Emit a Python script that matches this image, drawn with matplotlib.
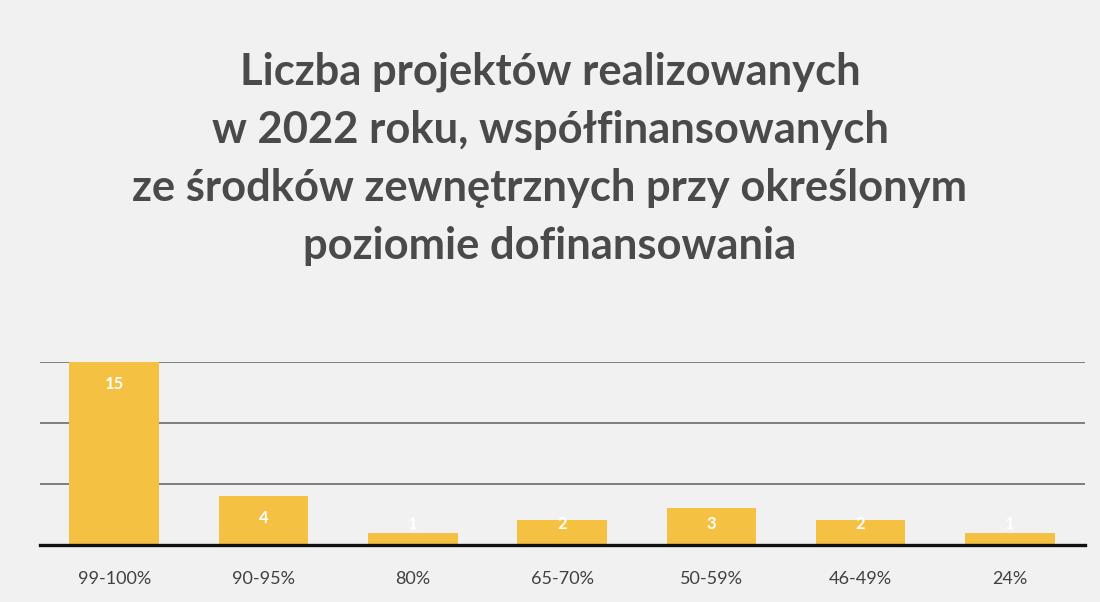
import numpy as np
import matplotlib.pyplot as plt

categories = ["99-100%", "90-95%", "80%", "65-70%", "50-59%", "46-49%", "24%"]
projects = [15, 4, 1, 2, 3, 2, 1]
title = ("Liczba projektów realizowanych\n"
         "w 2022 roku, współfinansowanych\n"
         "ze środków zewnętrznych przy określonym\n"
         "poziomie dofinansowania")

plt.rcParams['font.family'] = ['Lato', 'DejaVu Sans']

fig = plt.figure(figsize=(11, 6.02), dpi=100, facecolor='#f1f1f1')
ax = fig.add_axes([0.036, 0.095, 0.95, 0.304])
ax.set_facecolor('#f1f1f1')

x = np.arange(len(categories))
bars = ax.bar(x, projects, width=0.6, color='#f4c142', zorder=2)
for b, v in zip(bars, projects):
    # label sits just inside the bar end, floats above the short ones
    ax.text(b.get_x() + b.get_width() / 2, max(v - 1.8, 1.7), str(v), ha='center',
            va='center', color='white', fontsize=12, fontweight='bold', zorder=3)

ax.set_xlim(-0.5, 6.5)
ax.set_ylim(0, 15)
ax.set_yticks([5, 10, 15])
ax.yaxis.grid(True, color='#606060', linewidth=1.1, zorder=1)
ax.tick_params(axis='y', left=False, labelleft=False)
ax.tick_params(axis='x', length=0, pad=19, labelsize=13, labelcolor='#404040')
ax.set_xticks(x)
ax.set_xticklabels(categories)
for s in ['top', 'right', 'left']:
    ax.spines[s].set_visible(False)
ax.spines['bottom'].set_color('#111111')
ax.spines['bottom'].set_linewidth(2.4)
ax.spines['bottom'].set_zorder(4)

fig.text(0.5, 0.915, title, ha='center', va='top', fontsize=31.3, fontweight='bold',
         color='#4a4a4a', linespacing=1.55)

fig.savefig('out.png', dpi=100, facecolor=fig.get_facecolor())
